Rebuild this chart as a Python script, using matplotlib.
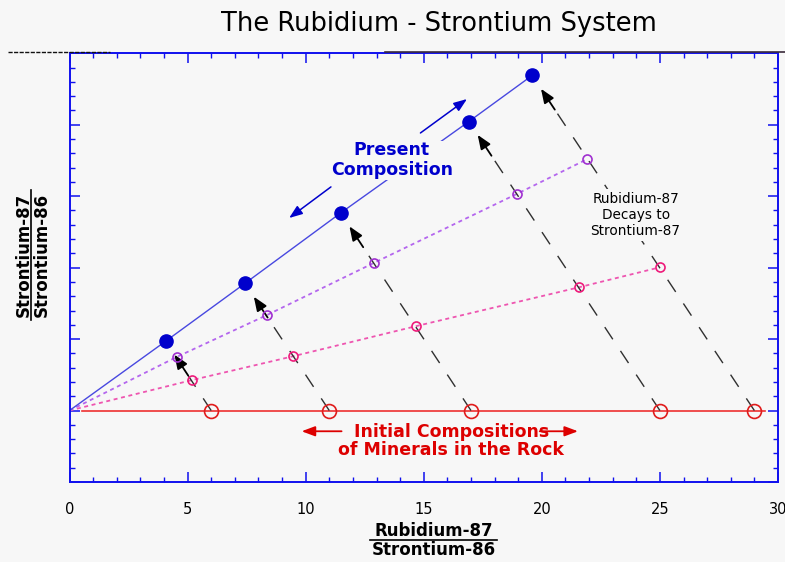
import numpy as np
import matplotlib
matplotlib.use("Agg")
import matplotlib.pyplot as plt
from matplotlib.lines import Line2D
from matplotlib.ticker import MultipleLocator, FixedLocator

# ---------------- data ----------------
origin_rb = [0.0]
origin_sr = [0.0]

initial_rb = [6, 11, 17, 25, 29]
initial_sr = [0, 0, 0, 0, 0]
initial_line_rb = [0.55, 29.45]
initial_line_sr = [0, 0]

stage1_rb = [5.17, 9.47, 14.66, 21.57, 25.0]     # pink (early decay)
stage1_sr = [0.85, 1.52, 2.36, 3.45, 4.01]

stage2_rb = [4.54, 8.35, 12.88, 18.93, 21.93]    # purple (later decay)
stage2_sr = [1.50, 2.67, 4.13, 6.06, 7.04]

present_rb = [4.07, 7.43, 11.48, 16.91, 19.59]   # blue (present)
present_sr = [1.94, 3.56, 5.53, 8.09, 9.38]

x_ticks = [0, 5, 10, 15, 20, 25, 30]
x_tick_labels = ["0", "5", "10", "15", "20", "25", "30"]

title = "The Rubidium - Strontium System"
xlabel_top = "Rubidium-87"
xlabel_bottom = "Strontium-86"
ylabel_top = "Strontium-87"
ylabel_bottom = "Strontium-86"
present_label = "Present\nComposition"
initial_label = "Initial Compositions\nof Minerals in the Rock"
decay_label = "Rubidium-87\nDecays to\nStrontium-87"

# ---------------- styles ----------------
BG = "#f7f7f7"
SPINE = "#1010ee"
BLUE_PT = "#0000cc"
BLUE_LN = "#4848e0"
BLUE_TXT = "#0000cc"
PURPLE_LN = "#b466ee"
PURPLE_PT = "#a030d0"
PINK_LN = "#ee55b0"
PINK_PT = "#ee1a7a"
RED_LN = "#ee3030"
RED_PT = "#e01c1c"
RED_TXT = "#dd0000"
DASH = "#303030"

W, H = 785, 562
fig = plt.figure(figsize=(W / 100, H / 100), dpi=100, facecolor=BG)
ax = fig.add_axes([69.5 / W, (H - 482) / H, (778 - 69.5) / W, (482 - 53.3) / H])
ax.set_facecolor(BG)

ax.set_xlim(0, 30)
ax.set_ylim(-2, 10)
ax.xaxis.set_major_locator(FixedLocator(x_ticks))
ax.set_xticklabels(x_tick_labels, fontsize=10.5, family="DejaVu Sans")
ax.xaxis.set_minor_locator(MultipleLocator(1))
ax.yaxis.set_major_locator(MultipleLocator(2))
ax.yaxis.set_minor_locator(MultipleLocator(0.4))
ax.tick_params(which="both", direction="in", top=True, right=True,
               color=SPINE, labelleft=False)
ax.tick_params(which="major", length=7, width=1.1)
ax.tick_params(which="minor", length=3.5, width=1.0)
ax.tick_params(axis="x", which="major", pad=14.5, labelcolor="black")
for s in ax.spines.values():
    s.set_color(SPINE)
    s.set_linewidth(1.4)

# ---------------- lines ----------------
ax.plot(initial_line_rb, initial_line_sr, color=RED_LN, lw=1.2, zorder=2)
ax.plot(origin_rb + stage1_rb, origin_sr + stage1_sr, color=PINK_LN, lw=1.3,
        linestyle=(0, (2.2, 2.0)), zorder=2)
ax.plot(origin_rb + stage2_rb, origin_sr + stage2_sr, color=PURPLE_LN, lw=1.3,
        linestyle=(0, (2.2, 2.0)), zorder=2)
ax.plot(origin_rb + present_rb, origin_sr + present_sr, color=BLUE_LN, lw=1.0,
        zorder=2)

# decay paths: dashed line + arrow head just short of present composition
inv = ax.transData.inverted()
gap_px, arrow_px = 16.0, 25.0
for x0, y0, xb, yb in zip(initial_rb, initial_sr, present_rb, present_sr):
    p0 = ax.transData.transform((x0, y0))
    p1 = ax.transData.transform((xb, yb))
    u = (p0 - p1) / np.hypot(*(p0 - p1))
    tip = inv.transform(p1 + u * gap_px)
    tail = inv.transform(p1 + u * (gap_px + arrow_px))
    ax.plot([x0, tail[0]], [y0, tail[1]], color=DASH, lw=1.0,
            linestyle=(0, (10.5, 10.0)), zorder=2.5)
    ax.annotate("", xy=tip, xytext=tail,
                arrowprops=dict(arrowstyle="-|>,head_length=0.85,head_width=0.34",
                                color="black", lw=1.3, shrinkA=0, shrinkB=0),
                zorder=3)

# ---------------- markers ----------------
ax.plot(initial_rb, initial_sr, "o", ms=10, mfc="none", mec=RED_PT, mew=1.2, zorder=3)
ax.plot(stage1_rb, stage1_sr, "o", ms=6.5, mfc="none", mec=PINK_PT, mew=1.2, zorder=3)
ax.plot(stage2_rb, stage2_sr, "o", ms=6.5, mfc="none", mec=PURPLE_PT, mew=1.2, zorder=3)
ax.plot(present_rb, present_sr, "o", ms=9.5, mfc=BLUE_PT, mec=BLUE_PT, zorder=4)

# ---------------- annotations ----------------
ax.text(13.65, 7.01, present_label, color=BLUE_TXT, fontsize=12.5,
        fontweight="bold", ha="center", va="center", linespacing=1.1,
        family="DejaVu Sans",
        bbox=dict(boxstyle="square,pad=0.05", fc=BG, ec="none"), zorder=5)
ax.annotate("", xy=(16.83, 8.72), xytext=(14.86, 7.77),
            arrowprops=dict(arrowstyle="-|>,head_length=0.8,head_width=0.3",
                            color=BLUE_TXT, lw=1.1, shrinkA=0, shrinkB=0))
ax.annotate("", xy=(9.30, 5.39), xytext=(11.07, 6.26),
            arrowprops=dict(arrowstyle="-|>,head_length=0.8,head_width=0.3",
                            color=BLUE_TXT, lw=1.1, shrinkA=0, shrinkB=0))

ax.text(16.17, -0.85, initial_label, color=RED_TXT, fontsize=12.5,
        fontweight="bold", ha="center", va="center", linespacing=1.0,
        family="DejaVu Sans", zorder=5)
ax.annotate("", xy=(9.83, -0.58), xytext=(11.52, -0.58),
            arrowprops=dict(arrowstyle="-|>,head_length=0.8,head_width=0.3",
                            color=RED_TXT, lw=1.3, shrinkA=0, shrinkB=0))
ax.annotate("", xy=(21.53, -0.58), xytext=(19.91, -0.58),
            arrowprops=dict(arrowstyle="-|>,head_length=0.8,head_width=0.3",
                            color=RED_TXT, lw=1.3, shrinkA=0, shrinkB=0), zorder=6)

ax.text(23.97, 5.47, decay_label, color="black", fontsize=9.8,
        ha="center", va="center", linespacing=1.15, family="DejaVu Sans",
        bbox=dict(boxstyle="square,pad=0.25", fc=BG, ec="none"), zorder=5)

# ---------------- figure texts ----------------
fig.text(438.5 / W, 1 - 30.7 / H, title, fontsize=18.5, ha="center",
         va="baseline", family="DejaVu Sans", color="black")
fig.text(433.5 / W, 1 - 536.5 / H, xlabel_top, fontsize=12, fontweight="bold",
         ha="center", va="baseline", family="DejaVu Sans")
fig.text(433.5 / W, 1 - 555 / H, xlabel_bottom, fontsize=12, fontweight="bold",
         ha="center", va="baseline", family="DejaVu Sans")
fig.add_artist(Line2D([370 / W, 497 / W], [1 - 539.5 / H] * 2, color="black", lw=1.2))

fig.text(24 / W, 1 - 255 / H, ylabel_top, fontsize=12, fontweight="bold",
         rotation=90, ha="center", va="center", family="DejaVu Sans")
fig.text(41.5 / W, 1 - 255 / H, ylabel_bottom, fontsize=12, fontweight="bold",
         rotation=90, ha="center", va="center", family="DejaVu Sans")
fig.add_artist(Line2D([31 / W] * 2, [1 - 190 / H, 1 - 320 / H], color="black", lw=1.2))

# scan-line artefacts along the top of the frame
fig.add_artist(Line2D([8 / W, 110 / W], [1 - 52 / H] * 2, color="#111111", lw=1.0,
                      linestyle=(0, (3, 1))))
fig.add_artist(Line2D([385 / W, 1.0], [1 - 52 / H] * 2, color="#3a2a3a", lw=1.2))

fig.savefig("out.png", dpi=100, facecolor=BG)
